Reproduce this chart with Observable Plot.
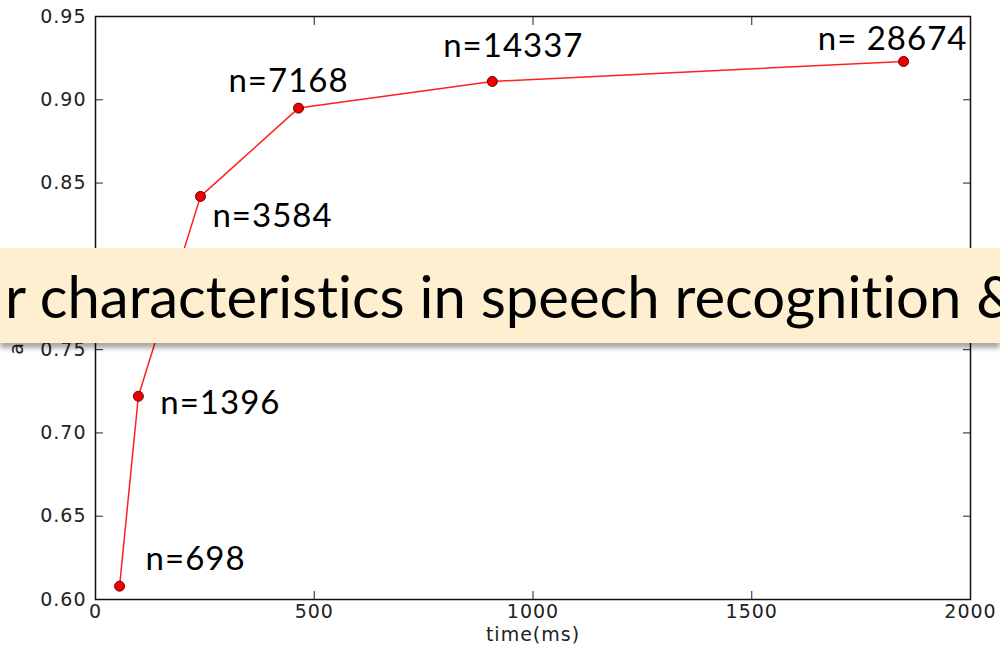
<!DOCTYPE html>
<html><head><meta charset="utf-8">
<script src="https://cdn.jsdelivr.net/npm/d3@7"></script>
<script src="https://cdn.jsdelivr.net/npm/@observablehq/plot@0.6"></script>
<style>
body{margin:0;background:#fff;}
#wrap{position:relative;width:1000px;height:647px;overflow:hidden;background:#fff;}
#wrap svg{position:absolute;left:0;top:0;}
#banner{position:absolute;left:0;top:248px;width:1000px;height:95px;background:#fdefcf;box-shadow:0 5px 5px rgba(0,0,0,0.35);font-family:Lato;font-size:58px;line-height:95px;white-space:nowrap;padding-left:5px;box-sizing:border-box;color:#000;overflow:hidden;font-variant-ligatures:none;font-feature-settings:"liga" 0, "clig" 0;}
</style></head>
<body><div id="wrap"><div id="banner">r characteristics in speech recognition &amp;</div></div>
<script>
const sizes = ["n=698", "n=1396", "n=3584", "n=7168", "n=14337", "n= 28674"];
const times = [55, 98, 240, 464, 907, 1847];
const accuracy = [0.608, 0.722, 0.842, 0.895, 0.911, 0.923];
const xTicks = [0, 500, 1000, 1500, 2000];
const yTicks = [0.60, 0.65, 0.70, 0.75, 0.80, 0.85, 0.90, 0.95];
const bannerText = "r characteristics in speech recognition &";
// label offsets (px) relative to each point
const labelDx = [76, 82, 72, -10, 21, -11];
const labelDy = [-27, 7, 20, -27, -35, -22];

const data = times.map((t, i) => ({time: t, acc: accuracy[i], label: sizes[i]}));
const labels = data.map((d, i) => Plot.text([d], {
  x: "time", y: "acc", text: "label", dx: labelDx[i], dy: labelDy[i],
  fontFamily: "Lato", fontSize: 33, fill: "#000"
}));

const plot = Plot.plot({
  width: 1000, height: 647,
  marginLeft: 95, marginRight: 30, marginTop: 16, marginBottom: 48,
  x: {domain: [0, 2000]},
  y: {domain: [0.60, 0.95]},
  style: {fontFamily: "DejaVu Sans", fontSize: "19px", color: "#222", background: "transparent", letterSpacing: "1px"},
  marks: [
    Plot.axisX({ticks: xTicks, tickSize: 0, tickPadding: 5, tickFormat: d => String(d), label: "time(ms)", labelAnchor: "center", labelArrow: "none", labelOffset: 41}),
    Plot.axisX({ticks: xTicks, tickSize: -8, tickFormat: () => "", label: null, stroke: "#222"}),
    Plot.axisX({anchor: "top", ticks: xTicks, tickSize: -8, tickFormat: () => "", label: null, stroke: "#222"}),
    Plot.axisY({ticks: yTicks, tickSize: 0, tickPadding: 9, tickFormat: d => d.toFixed(2), label: "accuracy", labelAnchor: "center", labelArrow: "none", labelOffset: 86}),
    Plot.axisY({ticks: yTicks, tickSize: -8, tickFormat: () => "", label: null, stroke: "#222"}),
    Plot.axisY({anchor: "right", ticks: yTicks, tickSize: -8, tickFormat: () => "", label: null, stroke: "#222"}),
    Plot.frame({stroke: "#111", strokeWidth: 1.5}),
    Plot.line(data, {x: "time", y: "acc", stroke: "#ff2020", strokeWidth: 1.5}),
    Plot.dot(data, {x: "time", y: "acc", r: 5, fill: "#ee0000", stroke: "#700000", strokeWidth: 1}),
    ...labels
  ]
});
document.getElementById("wrap").insertBefore(plot, document.getElementById("banner"));
document.getElementById("banner").textContent = bannerText;
</script>
</body></html>
